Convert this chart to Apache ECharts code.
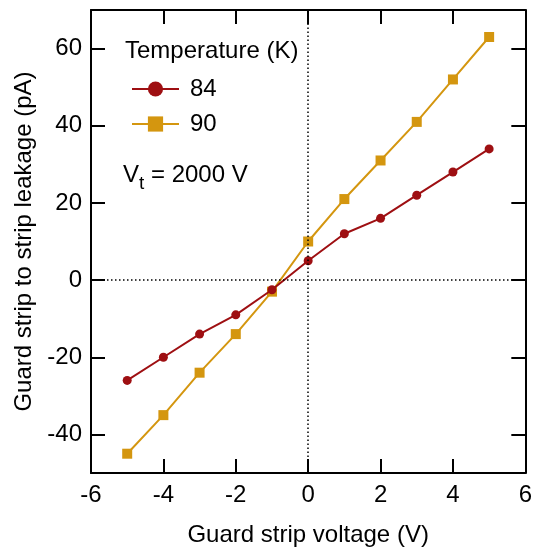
<!DOCTYPE html>
<html>
<head>
<meta charset="utf-8">
<script src="https://cdn.jsdelivr.net/npm/echarts@6/dist/echarts.min.js"></script>
<style>
html,body{margin:0;padding:0;background:#fff;}
#chart{width:535px;height:552px;}
</style>
</head>
<body>
<div id="chart"></div>
<script>
var voltages = [-5, -4, -3, -2, -1, 0, 1, 2, 3, 4, 5];
var leak84 = [-26, -20, -14, -9, -2.5, 5, 12, 16, 22, 28, 34];
var leak90 = [-45, -35, -24, -14, -3, 10, 21, 31, 41, 52, 63];
var seriesNames = ['84', '90'];
var xTicks = [-6, -4, -2, 0, 2, 4, 6];
var yTicks = [-40, -20, 0, 20, 40, 60];

var FONT = 'Liberation Sans, Arial, sans-serif';
var RED = '#9e0f12';
var GOLD = '#d4960f';
var FS = 24;

function pairs(xs, ys) { return xs.map(function (x, i) { return [x, ys[i]]; }); }

var baseAxisLine = { onZero: false, lineStyle: { color: '#000', width: 2 } };
var tickStyle = { inside: true, length: 14, lineStyle: { color: '#000', width: 2 } };

var chart = echarts.init(document.getElementById('chart'));
chart.setOption({
  animation: false,
  grid: { left: 91, right: 8, top: 10, bottom: 75 },
  textStyle: { fontFamily: FONT },
  xAxis: [{
    type: 'value', min: -6, max: 6, interval: 2,
    axisLine: baseAxisLine, axisTick: tickStyle, splitLine: { show: false },
    axisLabel: { color: '#000', fontSize: FS, fontFamily: FONT, margin: 10,
      formatter: function (v) { return xTicks.indexOf(v) >= 0 ? String(v) : ''; } },
    name: 'Guard strip voltage (V)', nameLocation: 'middle', nameGap: 50,
    nameTextStyle: { color: '#000', fontSize: FS, fontFamily: FONT }
  }, {
    type: 'value', position: 'top', min: -6, max: 6, interval: 2,
    axisLine: baseAxisLine, axisTick: tickStyle, splitLine: { show: false },
    axisLabel: { show: false }
  }],
  yAxis: [{
    type: 'value', min: -50, max: 70, splitNumber: 6,
    axisLine: baseAxisLine, axisTick: tickStyle, splitLine: { show: false },
    axisLabel: { color: '#000', fontSize: FS, fontFamily: FONT, margin: 9,
      formatter: function (v) { return yTicks.indexOf(v) >= 0 ? String(v) : ''; } },
    name: 'Guard strip to strip leakage (pA)', nameLocation: 'middle', nameGap: 54,
    nameTextStyle: { color: '#000', fontSize: FS, fontFamily: FONT }
  }, {
    type: 'value', position: 'right', min: -50, max: 70, splitNumber: 6,
    axisLine: baseAxisLine, axisTick: tickStyle, splitLine: { show: false },
    axisLabel: { show: false }
  }],
  legend: {
    orient: 'vertical', left: 126, top: 72,
    itemWidth: 47, itemHeight: 19, itemGap: 11,
    data: seriesNames,
    textStyle: { color: '#000', fontSize: FS, fontFamily: FONT, padding: [0, 0, 0, 6] }
  },
  graphic: [
    { type: 'text', left: 125, top: 39,
      style: { text: 'Temperature (K)', fontSize: FS, fontFamily: FONT, fill: '#000' } },
    { type: 'text', left: 123, top: 163,
      style: {
        text: '{v|V}{s|t}{v| = 2000 V}',
        rich: {
          v: { fontSize: FS, fontFamily: FONT, fill: '#000', verticalAlign: 'top', lineHeight: 30 },
          s: { fontSize: 19, fontFamily: FONT, fill: '#000', verticalAlign: 'bottom', padding: [10, 0, 0, 0], lineHeight: 30 }
        }
      } }
  ],
  series: [{
    name: seriesNames[0], type: 'line', data: pairs(voltages, leak84),
    symbol: 'circle', symbolSize: 9,
    itemStyle: { color: RED }, lineStyle: { color: RED, width: 2 },
    z: 3,
    markLine: {
      silent: true, symbol: 'none', label: { show: false },
      lineStyle: { color: '#000', type: [1.5, 2.5], width: 1.5 },
      data: [{ xAxis: 0 }, { yAxis: 0 }]
    }
  }, {
    name: seriesNames[1], type: 'line', data: pairs(voltages, leak90),
    symbol: 'rect', symbolSize: 10,
    itemStyle: { color: GOLD }, lineStyle: { color: GOLD, width: 2 },
    z: 2
  }]
});
</script>
</body>
</html>
